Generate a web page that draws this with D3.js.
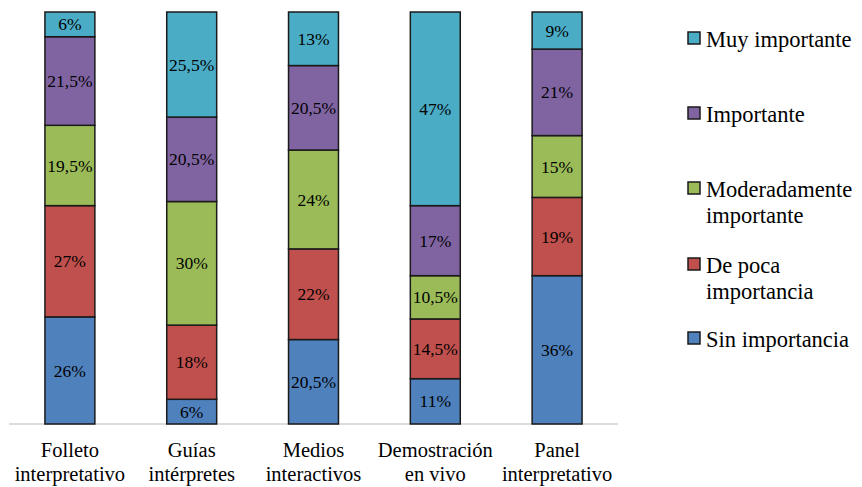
<!DOCTYPE html>
<html><head><meta charset="utf-8">
<script src="https://cdn.jsdelivr.net/npm/d3@7"></script>
<style>body{margin:0;background:#fff}svg{display:block}svg text,svg tspan{font-family:'Liberation Serif',serif !important}</style>
</head><body><svg id="c" width="862" height="487"></svg>
<script>
const categories = [["Folleto","interpretativo"],["Guías","intérpretes"],["Medios","interactivos"],["Demostración","en vivo"],["Panel","interpretativo"]];
const seriesNames = ["Sin importancia","De poca importancia","Moderadamente importante","Importante","Muy importante"];
const legendLines = [["Sin importancia"],["De poca","importancia"],["Moderadamente","importante"],["Importante"],["Muy importante"]];
const colors = ["#4F81BD","#C0504D","#9BBB59","#8064A2","#4BACC6"];
const sinImportancia = [26, 6, 20.5, 11, 36];
const dePoca = [27, 18, 22, 14.5, 19];
const moderada = [19.5, 30, 24, 10.5, 15];
const importante = [21.5, 20.5, 20.5, 17, 21];
const muyImportante = [6, 25.5, 13, 47, 9];
const seriesValues = [sinImportancia, dePoca, moderada, importante, muyImportante];

const FONT = "'Liberation Serif', serif";
const svg = d3.select("#c");
const x = d3.scaleBand().domain(d3.range(categories.length)).range([9, 618]).paddingInner(0.59).paddingOuter(0.295);
const y = d3.scaleLinear().domain([0, 100]).range([424, 12]);

const rows = categories.map((c, i) => {
  const o = {i};
  seriesNames.forEach((s, k) => o[s] = seriesValues[k][i]);
  return o;
});
const stack = d3.stack().keys(seriesNames)(rows);
const fmt = v => String(v).replace(".", ",") + "%";

svg.append("line").attr("x1", 9).attr("x2", 618).attr("y1", 424).attr("y2", 424)
  .attr("stroke", "#d0d0d0").attr("stroke-width", 1.5);

stack.forEach((layer, k) => {
  const g = svg.append("g");
  g.selectAll("rect").data(layer).join("rect")
    .attr("x", d => x(d.data.i))
    .attr("width", x.bandwidth())
    .attr("y", d => y(d[1]))
    .attr("height", d => y(d[0]) - y(d[1]))
    .attr("fill", colors[k]).attr("stroke", "#1a1a1a").attr("stroke-width", 1.5);
  g.selectAll("text").data(layer).join("text")
    .attr("font-family", "Liberation Serif")
    .style("font-family", FONT, "important")
    .attr("x", d => x(d.data.i) + x.bandwidth() / 2)
    .attr("y", d => (y(d[0]) + y(d[1])) / 2)
    .attr("dy", "0.35em")
    .attr("text-anchor", "middle").attr("font-size", 17.5).attr("fill", "#000")
    .text(d => fmt(d[1] - d[0]));
});

categories.forEach((c, i) => {
  const t = svg.append("text").attr("font-family", "Liberation Serif").style("font-family", FONT, "important")
    .attr("text-anchor", "middle").attr("font-size", 20.5).attr("fill", "#000")
    .attr("x", x(i) + x.bandwidth() / 2).attr("y", 457);
  c.forEach((ln, j) => t.append("tspan").style("font-family", FONT, "important")
    .attr("x", x(i) + x.bandwidth() / 2).attr("dy", j ? 24 : 0).text(ln));
});

const legY = [332, 258, 182, 107, 32];
seriesNames.forEach((s, k) => {
  const g = svg.append("g");
  g.append("rect").attr("x", 688).attr("y", legY[k]).attr("width", 12).attr("height", 12)
    .attr("fill", colors[k]).attr("stroke", "#1a1a1a").attr("stroke-width", 1.5);
  const t = g.append("text").attr("font-family", "Liberation Serif").style("font-family", FONT, "important")
    .attr("font-size", 22.5).attr("fill", "#000").attr("x", 706).attr("y", legY[k] + 15);
  legendLines[k].forEach((ln, j) => t.append("tspan").style("font-family", FONT, "important")
    .attr("x", 706).attr("dy", j ? 26 : 0).text(ln));
});
</script></body></html>
